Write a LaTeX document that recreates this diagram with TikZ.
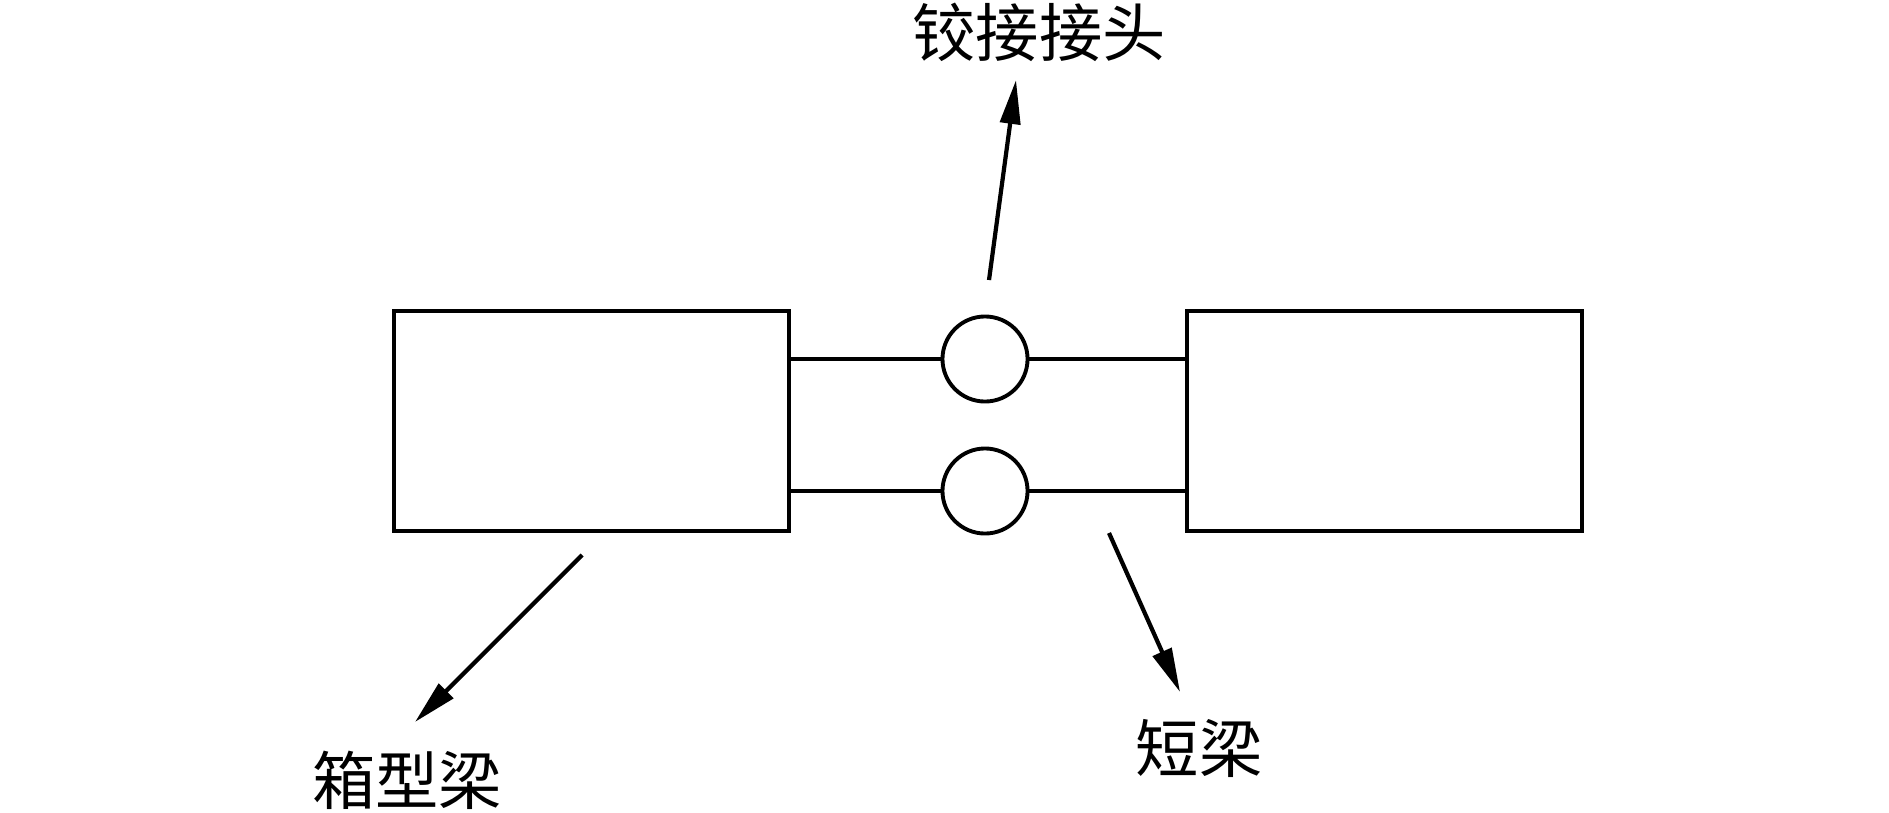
\documentclass[tikz,border=0pt]{standalone}
\usepackage{fontspec}
\newfontfamily\cjk{Noto Sans CJK SC}
\usetikzlibrary{arrows.meta}
\begin{document}
\begin{tikzpicture}[
  x=0.01cm, y=-0.01cm,
  beam/.style={
    draw=black, fill=white, rectangle, line width=1.1pt,
    minimum width=3.95cm, minimum height=2.2cm, inner sep=0pt
  },
  hinge/.style={
    draw=black, fill=white, circle, line width=1.1pt,
    minimum size=0.85cm, inner sep=0pt
  },
  lbl/.style={font=\cjk\fontsize{18}{20}\selectfont, inner sep=0pt},
  link/.style={line width=1.1pt},
  arr/.style={-{Triangle[length=4.4mm, width=2mm]}, line width=1.2pt}
]
\useasboundingbox (0,0) rectangle (1889,812);

%% ── Beams ────────────────────────────────────────────────────
\node[beam] (boxL) at ( 591.5, 421) {};
\node[beam] (boxR) at (1384.5, 421) {};

%% ── Hinges and short beams ───────────────────────────────────
\node[hinge] (hgT) at (985, 359) {};
\node[hinge] (hgB) at (985, 491) {};

\draw[link] (boxL.east |- hgT) -- (hgT);
\draw[link] (hgT) -- (boxR.west |- hgT);
\draw[link] (boxL.east |- hgB) -- (hgB);
\draw[link] (hgB) -- (boxR.west |- hgB);

%% ── Labels ───────────────────────────────────────────────────
\node[lbl] (jt) at (1039,  32) {铰接接头};
\node[lbl] (xl) at ( 407, 780) {箱型梁};
\node[lbl] (dl) at (1199, 748) {短梁};

%% ── Leader arrows ────────────────────────────────────────────
\coordinate (jtTail) at ( 989, 280);
\coordinate (jtTip)  at (1016,  80);
\coordinate (xlTail) at ( 582, 555);
\coordinate (xlTip)  at ( 415, 722);
\coordinate (dlTail) at (1109, 533);
\coordinate (dlTip)  at (1180, 692);

\draw[arr] (jtTail) -- (jtTip);
\draw[arr] (xlTail) -- (xlTip);
\draw[arr] (dlTail) -- (dlTip);

\end{tikzpicture}
\end{document}
